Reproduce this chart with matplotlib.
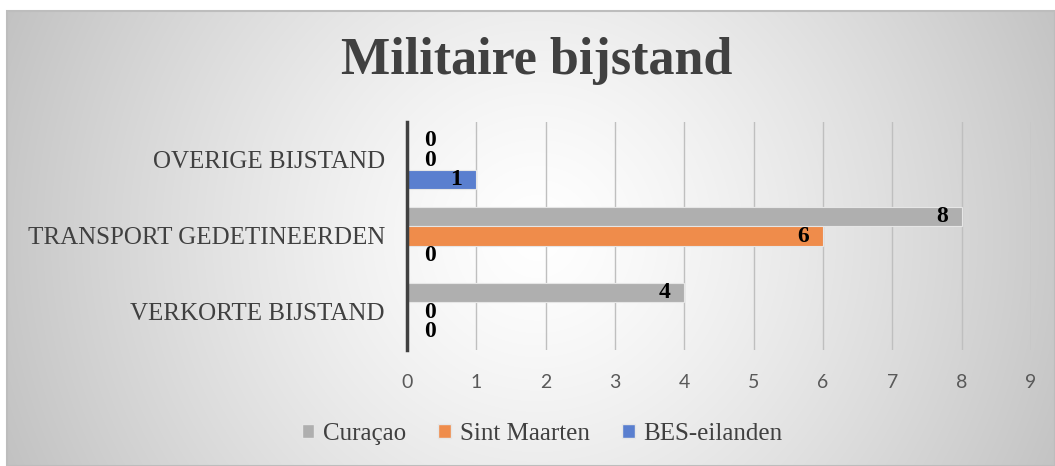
import numpy as np
import matplotlib.pyplot as plt
from matplotlib.patches import Rectangle, Patch

# data
categories = ['VERKORTE BIJSTAND', 'TRANSPORT GEDETINEERDEN', 'OVERIGE BIJSTAND']
series_names = ['Curaçao', 'Sint Maarten', 'BES-eilanden']
curacao = [4, 8, 0]
sint_maarten = [0, 6, 0]
bes_eilanden = [0, 0, 1]
x_ticks = [0, 1, 2, 3, 4, 5, 6, 7, 8, 9]

colors = ['#afafaf', '#ef8c4b', '#5a7fcf']
SERIF = 'Liberation Serif'
SANS = 'Lato'

W, H = 1055, 466
fig = plt.figure(figsize=(W / 100, H / 100), dpi=100)

# radial gradient background panel
bg = fig.add_axes([7 / W, 0, 1 - 7 / W, 1 - 11 / H])
yy, xx = np.mgrid[0:455, 0:1048]
d = np.hypot(xx - 530, yy - 225)
d = d / d.max()
shade = 1 - 0.24 * d ** 1.3
bg.imshow(np.dstack([shade] * 3), aspect='auto', extent=(0, 1, 0, 1))
bg.set_axis_off()
fig.patches.append(Rectangle((7 / W, 0), 1 - 7 / W, 1 - 11 / H, transform=fig.transFigure,
                             fill=False, edgecolor='#bdbdbd', lw=1.5))

ax = fig.add_axes([407 / W, 1 - 350 / H, (1031 - 407) / W, (350 - 122) / H])
ax.patch.set_alpha(0)

h = 0.257
y = np.arange(len(categories))
values = [curacao, sint_maarten, bes_eilanden]
offsets = [h, 0, -h]
for vals, off, col in zip(values, offsets, colors):
    ax.barh(y + off, vals, height=h, color=col, edgecolor='#e6e6e6', lw=0.8, zorder=3)
    for yi, v in zip(y + off, vals):
        if v > 0:
            ax.annotate(str(v), (v, yi), xytext=(-14, 0), textcoords='offset pixels',
                        ha='right', va='center', fontsize=17, fontweight='bold',
                        family=SERIF, color='black', zorder=4)
        else:
            ax.annotate(str(v), (0, yi), xytext=(17, 0), textcoords='offset pixels',
                        ha='left', va='center', fontsize=17, fontweight='bold',
                        family=SERIF, color='black', zorder=4)

ax.set_xlim(0, 9)
ax.set_ylim(-0.5, 2.5)
ax.set_xticks(x_ticks)
ax.set_yticks(y)
ax.set_yticklabels(categories, family=SERIF, fontsize=18, color='#404040')
ax.tick_params(axis='y', length=0, pad=16)
ax.tick_params(axis='x', length=0, pad=17, labelsize=14, labelcolor='#595959')
for lab in ax.get_xticklabels():
    lab.set_family(SANS)
ax.grid(axis='x', color='#bfbfbf', lw=1, zorder=0)
for s in ['top', 'right', 'bottom']:
    ax.spines[s].set_visible(False)
ax.spines['left'].set_color('#404040')
ax.spines['left'].set_linewidth(2.5)
ax.spines['left'].set_zorder(5)

fig.text(537 / W, 1 - 61 / H, 'Militaire bijstand', ha='center', va='center',
         fontsize=37.5, fontweight='bold', family=SERIF, color='#404040')

handles = [Patch(facecolor=c, edgecolor='#e6e6e6') for c in colors]
fig.legend(handles, series_names, loc='center', bbox_to_anchor=(542 / W, 1 - 434 / H),
           ncol=3, frameon=False, prop={'family': SERIF, 'size': 18},
           handlelength=0.5, handleheight=0.5, handletextpad=0.35, columnspacing=1.3,
           labelcolor='#404040')

fig.savefig('out.png', dpi=100)
